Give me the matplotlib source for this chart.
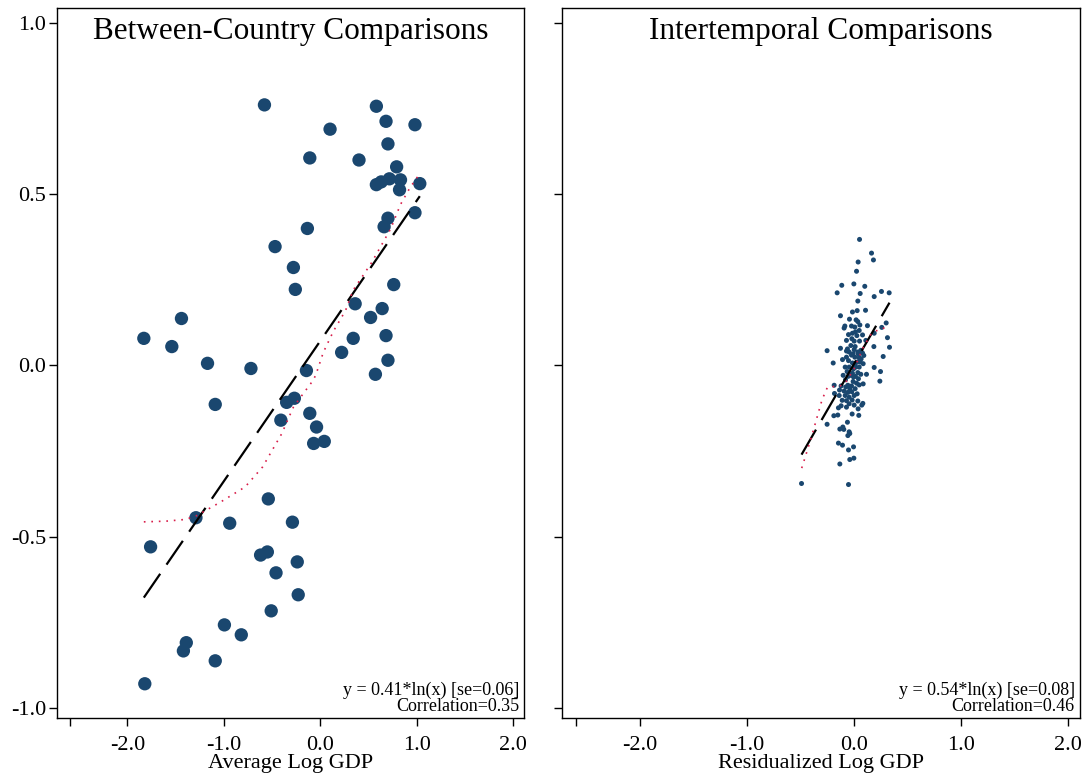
import numpy as np
import matplotlib
matplotlib.use("Agg")
import matplotlib.pyplot as plt

plt.rcParams['font.family'] = ['Liberation Serif', 'DejaVu Serif']

# Panel 1: between-country comparisons
avg_gdp = [-1.82, -1.76, -1.83, -1.54, -1.44, -1.17, -1.09, -1.39, -1.42, -1.09,
           -0.995, -0.82, -1.29, -0.94, -0.72, -0.58, -0.47, -0.28, -0.26, -0.135,
           -0.11, 0.10, 0.40, 0.58, 0.68, 0.70, 0.79, 0.58, 0.63, 0.715,
           0.83, 0.82, 1.03, 0.98, 0.98, 0.70, 0.66, 0.76, 0.36, 0.64,
           0.52, 0.68, 0.34, 0.22, 0.70, 0.57, -0.145, -0.35, -0.27, -0.41,
           -0.11, -0.04, -0.07, 0.04, -0.54, -0.29, -0.62, -0.55, -0.24, -0.46,
           -0.23, -0.51]
avg_y = [-0.93, -0.53, 0.079, 0.055, 0.137, 0.006, -0.114, -0.81, -0.834, -0.863,
         -0.758, -0.787, -0.445, -0.461, -0.009, 0.761, 0.347, 0.286, 0.222, 0.40,
         0.606, 0.69, 0.60, 0.757, 0.713, 0.647, 0.58, 0.528, 0.536, 0.545,
         0.542, 0.513, 0.531, 0.703, 0.446, 0.43, 0.405, 0.236, 0.18, 0.166,
         0.14, 0.087, 0.079, 0.038, 0.015, -0.026, -0.015, -0.108, -0.096, -0.16,
         -0.14, -0.18, -0.228, -0.222, -0.39, -0.458, -0.554, -0.545, -0.574, -0.606,
         -0.67, -0.717]
fit1 = (0.41, 0.072)
lowess1_x = [-1.83, -1.6, -1.4, -1.29, -1.04, -0.78, -0.60, -0.50, -0.40, -0.34, -0.28, -0.19,
             -0.10, -0.05, 0.03, 0.135, 0.26, 0.34, 0.53, 0.64, 0.73, 0.83, 0.93, 1.03]
lowess1_y = [-0.457, -0.455, -0.45, -0.44, -0.40, -0.355, -0.297, -0.248, -0.199, -0.16, -0.122, -0.087,
             -0.053, -0.03, 0.038, 0.10, 0.16, 0.22, 0.30, 0.355, 0.40, 0.47, 0.52, 0.56]

# Panel 2: intertemporal comparisons
res_gdp = [0.050, 0.162, 0.180, 0.037, 0.022, -0.116, -0.003, 0.099, -0.159, 0.056,
           0.255, 0.327, 0.187, 0.034, -0.016, 0.028, 0.106, -0.128, -0.044, 0.018,
           0.034, -0.087, -0.025, -0.094, 0.124, 0.006, 0.053, 0.258, 0.299, -0.053,
           -0.016, 0.012, 0.047, 0.025, 0.078, -0.022, -0.072, 0.000, 0.050, 0.109,
           0.187, 0.311, -0.128, -0.253, 0.330, 0.184, -0.072, -0.047, 0.000, 0.034,
           0.062, 0.090, -0.025, -0.072, 0.006, 0.047, 0.065, -0.109, 0.271, -0.196,
           -0.016, 0.031, 0.056, -0.047, -0.006, 0.015, 0.187, -0.066, -0.016, 0.034,
           -0.103, -0.056, 0.012, 0.062, 0.115, 0.246, -0.081, -0.010, 0.022, 0.084,
           0.240, -0.187, -0.122, -0.059, -0.025, 0.047, -0.184, -0.137, -0.094, -0.059,
           -0.022, 0.028, -0.047, -0.084, 0.000, -0.112, -0.072, -0.019, 0.034, -0.122,
           -0.047, 0.000, 0.071, 0.081, -0.147, -0.072, 0.037, -0.019, 0.043, -0.153,
           -0.190, -0.253, -0.063, -0.106, -0.134, -0.097, -0.047, -0.041, -0.059, -0.147,
           -0.109, -0.006, -0.053, -0.041, -0.003, -0.134, -0.492, -0.053,
           -0.031, 0.009, -0.063, 0.040, -0.010, 0.078, -0.053, 0.009, -0.031, 0.040,
           -0.041, 0.009, -0.078, -0.140, -0.006, 0.047, -0.084, 0.084]
res_y = [0.368, 0.328, 0.308, 0.302, 0.275, 0.234, 0.238, 0.231, 0.212, 0.210,
         0.216, 0.212, 0.201, 0.188, 0.156, 0.160, 0.161, 0.145, 0.135, 0.133,
         0.128, 0.115, 0.115, 0.109, 0.116, 0.112, 0.118, 0.111, 0.124, 0.090,
         0.094, 0.098, 0.102, 0.087, 0.089, 0.078, 0.073, 0.071, 0.071, 0.073,
         0.094, 0.081, 0.050, 0.043, 0.053, 0.055, 0.042, 0.039, 0.046, 0.039,
         0.044, 0.029, 0.030, 0.024, 0.024, 0.022, 0.019, 0.017, 0.026, 0.007,
         0.007, 0.010, 0.010, -0.005, -0.010, -0.005, -0.006, -0.018, -0.023, -0.021,
         -0.029, -0.032, -0.032, -0.026, -0.026, -0.018, -0.042, -0.047, -0.052, -0.054,
         -0.046, -0.058, -0.060, -0.058, -0.060, -0.057, -0.082, -0.072, -0.075, -0.079,
         -0.077, -0.083, -0.093, -0.088, -0.088, -0.102, -0.103, -0.101, -0.104, -0.118,
         -0.112, -0.116, -0.116, -0.111, -0.124, -0.122, -0.127, -0.142, -0.146, -0.145,
         -0.147, -0.172, -0.166, -0.180, -0.186, -0.187, -0.194, -0.199, -0.205, -0.227,
         -0.233, -0.238, -0.247, -0.275, -0.271, -0.288, -0.345, -0.348,
         0.058, 0.055, 0.048, 0.032, 0.034, 0.036, 0.014, 0.005, -0.029, -0.039,
         -0.068, -0.068, -0.063, -0.088, -0.034, -0.005, -0.005, 0.005]
fit2 = (0.54, 0.005)
lowess2_x = [-0.49, -0.45, -0.40, -0.35, -0.30, -0.25, -0.20, -0.14, -0.08, 0.0, 0.08, 0.16, 0.25, 0.33]
lowess2_y = [-0.30, -0.26, -0.21, -0.155, -0.10, -0.064, -0.062, -0.062, -0.05, -0.01, 0.05, 0.093, 0.108, 0.11]

titles = ["Between-Country Comparisons", "Intertemporal Comparisons"]
xlabels = ["Average Log GDP", "Residualized Log GDP"]
notes = ["y = 0.41*ln(x) [se=0.06]\nCorrelation=0.35",
         "y = 0.54*ln(x) [se=0.08]\nCorrelation=0.46"]

navy = "#1a476f"
lowess_col = "#d81e4a"

fig = plt.figure(figsize=(10.82, 7.80), dpi=100)
W, H = 1082, 780
ax1 = fig.add_axes([57 / W, 62 / H, 467 / W, 710 / H])
ax2 = fig.add_axes([562 / W, 62 / H, 518 / W, 710 / H])

panels = [
    (ax1, avg_gdp, avg_y, fit1, lowess1_x, lowess1_y, 92),
    (ax2, res_gdp, res_y, fit2, lowess2_x, lowess2_y, 13),
]

for i, (ax, x, y, fit, lx, ly, msize) in enumerate(panels):
    ax.scatter(x, y, s=msize, color=navy, edgecolors="none", zorder=2)
    xx = np.array([min(x), max(x)])
    ax.plot(xx, fit[0] * xx + fit[1], color="black", lw=1.6,
            dashes=(13, 5), zorder=3)
    ax.plot(lx, ly, color=lowess_col, lw=1.2, linestyle=(0, (1, 3.5)), zorder=4)

    ax.set_xlim(-2.73, 2.11)
    ax.set_ylim(-1.03, 1.044)
    ax.set_xticks([-2.6, -2.0, -1.0, 0.0, 1.0, 2.0])
    ax.set_xticklabels(["", "-2.0", "-1.0", "0.0", "1.0", "2.0"])
    ax.set_yticks([-1.0, -0.5, 0.0, 0.5, 1.0])
    if i == 0:
        ax.set_yticklabels(["-1.0", "-0.5", "0.0", "0.5", "1.0"])
    else:
        ax.set_yticklabels([])
    ax.tick_params(direction="out", length=6, width=1, labelsize=16, pad=2)
    ax.tick_params(axis="x", pad=7)
    for sp in ax.spines.values():
        sp.set_linewidth(1)
    ax.set_xlabel(xlabels[i], fontsize=16, labelpad=-1)
    ax.text(0.5, 0.987, titles[i], transform=ax.transAxes, ha="center", va="top",
            fontsize=22.5)
    ax.text(0.99, 0.004, notes[i], transform=ax.transAxes, ha="right", va="bottom",
            fontsize=13, linespacing=0.9)

fig.savefig("out.png", dpi=100)
